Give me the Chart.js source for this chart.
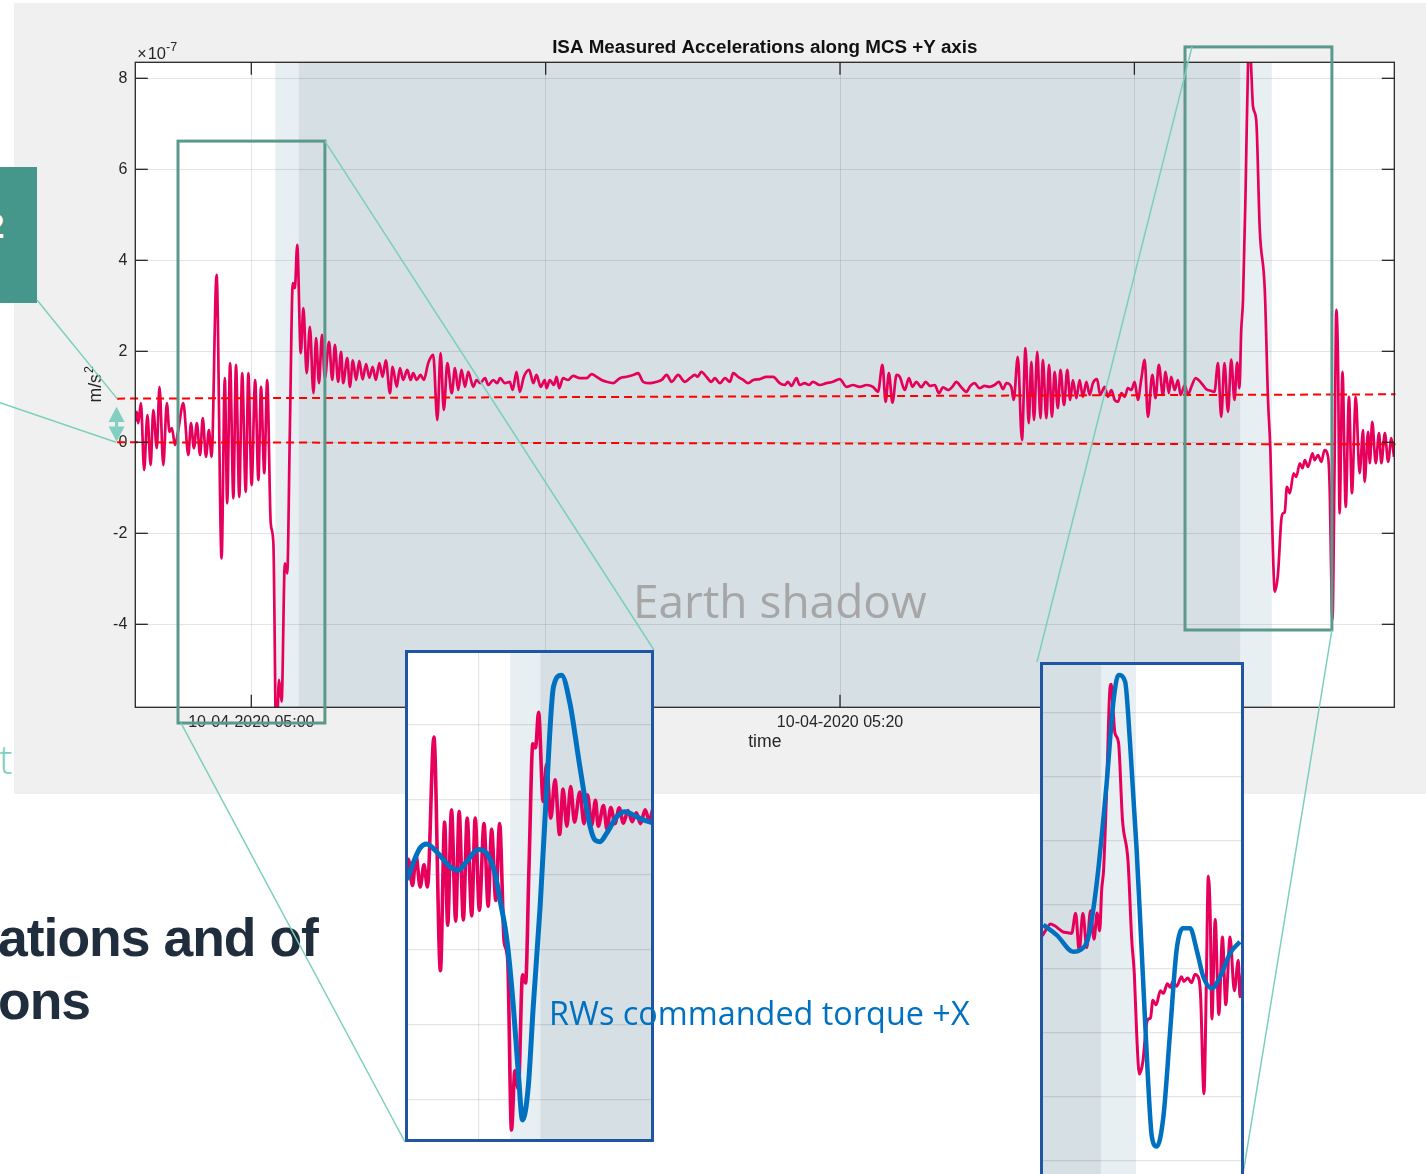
<!DOCTYPE html>
<html>
<head>
<meta charset="utf-8">
<title>ISA Measured Accelerations along MCS +Y axis</title>
<script src="https://cdn.jsdelivr.net/npm/chart.js@4.4.0/dist/chart.umd.min.js"></script>
<style>
  html, body { margin: 0; padding: 0; background: #fff; overflow: hidden; }
  #stage { position: relative; width: 1426px; height: 1174px; overflow: hidden; }
  .abs { position: absolute; }
  #figbg { left: 14px; top: 3px; width: 1412px; height: 791px; background: #f0f0f0; z-index: 1; }
  #slideTab { left: 0; top: 167px; width: 37px; height: 136px; background: #44978a; overflow: hidden; z-index: 2; }
  #slideTab span { position: absolute; left: -15px; top: 41px; color: #fff; font: bold 35px/35px "Liberation Sans", Arial, sans-serif; }
  #slideT { left: -1px; top: 739px; color: #7ccfbd; font: 300 40px/40px "Open Sans", sans-serif; z-index: 2; }
  .heading { left: -2px; color: #1f2d3d; font: bold 53.5px/53.5px "Liberation Sans", Arial, sans-serif; letter-spacing: -1px; white-space: nowrap; z-index: 2; }
  #mainCanvas { left: 0; top: 0; z-index: 3; }
  #shadowLabel { left: 633px; top: 577px; color: #a6a6a6; font: 46px/46px "Open Sans", sans-serif; white-space: nowrap; z-index: 4; }
  .inset { border: 3px solid #1f55a2; background: #fff; z-index: 5; }
  .inset canvas { display: block; }
  #insetL { left: 405px; top: 650px; width: 243px; height: 486px; }
  #insetR { left: 1040px; top: 662px; width: 198px; height: 557px; }
  #torqueLabel { left: 549px; top: 996px; color: #0070c0; font: 32.4px/32.4px "Open Sans", sans-serif; white-space: nowrap; z-index: 6; }
</style>
</head>
<body>
<div id="stage">
  <div id="figbg" class="abs"></div>
  <div id="slideTab" class="abs"><span>2</span></div>
  <div id="slideT" class="abs">t</div>
  <div class="abs heading" style="top:911px">ations and of</div>
  <div class="abs heading" style="top:974px">ons</div>
  <canvas id="mainCanvas" class="abs" width="1426" height="1174"></canvas>
  <div id="shadowLabel" class="abs">Earth shadow</div>
  <div id="insetL" class="abs inset"><canvas id="insetLCanvas" width="243" height="486"></canvas></div>
  <div id="insetR" class="abs inset"><canvas id="insetRCanvas" width="198" height="557"></canvas></div>
  <div id="torqueLabel" class="abs">RWs commanded torque +X</div>
</div>
<script>
// ISA acceleration along MCS +Y: [minutes after 10-04-2020 05:00, value in 1e-7 m/s^2]
const isaAccel = [
  [-3.95,0.45],[-3.89,0.67],[-3.84,0.42],[-3.75,0.86],[-3.64,-0.61],[-3.53,0.60],[-3.42,-0.50],[-3.33,0.71],
  [-3.21,-0.13],[-3.12,1.22],[-2.99,-0.50],[-2.87,0.86],[-2.78,0.23],[-2.70,0.31],[-2.59,-0.06],[-2.48,0.27],
  [-2.31,0.86],[-2.14,-0.28],[-2.05,0.42],[-1.95,-0.13],[-1.85,0.42],[-1.74,-0.28],[-1.65,0.53],[-1.54,-0.32],
  [-1.44,0.27],[-1.35,-0.32],[-1.18,3.68],[-1.01,-2.55],[-0.90,1.41],[-0.82,-1.34],[-0.72,1.74],[-0.61,-1.23],
  [-0.52,1.70],[-0.41,-1.20],[-0.31,1.52],[-0.19,-1.09],[-0.10,1.52],[0.01,-0.94],[0.13,1.37],[0.24,-0.83],
  [0.33,1.22],[0.44,-0.68],[0.54,1.37],[0.66,-1.78],[0.75,-2.22],[0.85,-6.80],[0.94,-5.22],[1.03,-5.70],
  [1.14,-2.66],[1.22,-2.88],[1.31,0.27],[1.41,3.50],[1.48,3.39],[1.56,4.34],[1.68,1.96],[1.77,2.95],
  [1.88,1.52],[1.99,2.54],[2.11,1.08],[2.20,2.29],[2.30,1.30],[2.40,2.36],[2.50,1.41],[2.64,2.21],
  [2.75,1.37],[2.84,2.14],[2.95,1.33],[3.05,1.99],[3.12,1.30],[3.26,1.85],[3.35,1.22],[3.45,1.80],
  [3.56,1.37],[3.67,1.79],[3.78,1.38],[3.90,1.72],[4.01,1.42],[4.12,1.66],[4.23,1.37],[4.35,1.74],
  [4.46,1.44],[4.57,1.80],[4.71,1.08],[4.80,1.66],[4.94,1.22],[5.05,1.63],[5.16,1.37],[5.30,1.59],
  [5.41,1.37],[5.50,1.52],[5.62,1.37],[5.75,1.48],[5.86,1.37],[6.01,1.74],[6.18,1.92],[6.32,0.49],
  [6.43,1.96],[6.54,0.71],[6.66,1.74],[6.81,1.08],[6.92,1.63],[7.03,1.15],[7.14,1.59],[7.26,1.22],
  [7.37,1.55],[7.54,1.22],[7.65,1.37],[7.77,1.30],[7.94,1.41],[8.05,1.26],[8.22,1.37],[8.35,1.30],
  [8.45,1.41],[8.62,1.30],[8.78,1.33],[8.88,1.15],[9.01,1.55],[9.12,1.11],[9.26,1.44],[9.44,1.59],
  [9.58,1.30],[9.69,1.48],[9.83,1.22],[9.97,1.37],[10.03,1.19],[10.14,1.37],[10.28,1.26],[10.37,1.44],
  [10.46,1.19],[10.59,1.41],[10.76,1.37],[10.93,1.46],[11.16,1.41],[11.39,1.41],[11.56,1.50],[11.73,1.44],
  [11.90,1.37],[12.07,1.33],[12.29,1.30],[12.52,1.41],[12.75,1.44],[12.97,1.48],[13.14,1.52],[13.31,1.33],
  [13.54,1.30],[13.77,1.33],[13.94,1.37],[14.11,1.48],[14.28,1.33],[14.50,1.48],[14.73,1.33],[14.90,1.41],
  [15.07,1.48],[15.16,1.44],[15.29,1.55],[15.46,1.44],[15.63,1.33],[15.75,1.41],[15.92,1.30],[16.09,1.41],
  [16.26,1.33],[16.37,1.52],[16.54,1.44],[16.71,1.37],[16.88,1.30],[17.05,1.37],[17.27,1.39],[17.50,1.44],
  [17.73,1.44],[17.95,1.30],[18.12,1.26],[18.23,1.33],[18.35,1.24],[18.52,1.41],[18.63,1.26],[18.80,1.30],
  [18.95,1.26],[19.08,1.33],[19.31,1.26],[19.54,1.30],[19.76,1.33],[19.99,1.39],[20.22,1.22],[20.44,1.26],
  [20.67,1.22],[20.90,1.26],[21.12,1.22],[21.29,1.11],[21.44,1.70],[21.55,0.89],[21.66,1.52],[21.78,0.87],
  [21.92,1.48],[22.03,1.44],[22.20,1.15],[22.34,1.41],[22.46,1.22],[22.59,1.33],[22.76,1.21],[22.91,1.33],
  [23.05,1.24],[23.22,1.26],[23.36,1.08],[23.50,1.21],[23.67,1.15],[23.84,1.24],[23.95,1.33],[24.12,1.21],
  [24.29,1.11],[24.43,1.24],[24.57,1.30],[24.74,1.19],[24.91,1.24],[25.08,1.22],[25.25,1.26],[25.40,1.33],
  [25.54,1.17],[25.65,1.30],[25.82,1.21],[25.90,0.93],[26.04,1.88],[26.18,0.05],[26.30,2.07],[26.41,0.42],
  [26.50,1.77],[26.59,0.49],[26.70,1.99],[26.81,0.53],[26.89,1.81],[27.01,0.53],[27.10,1.70],[27.20,0.56],
  [27.29,1.55],[27.40,0.75],[27.49,1.59],[27.61,0.82],[27.72,1.59],[27.82,0.93],[27.91,1.37],[28.03,0.97],
  [28.14,1.37],[28.25,1.00],[28.37,1.33],[28.48,1.04],[28.59,1.30],[28.73,1.39],[28.84,1.04],[28.99,1.22],
  [29.10,1.00],[29.22,1.15],[29.33,0.93],[29.44,0.89],[29.56,1.08],[29.67,1.00],[29.78,1.19],[29.90,1.15],
  [30.01,1.33],[30.12,0.93],[30.23,1.37],[30.35,1.81],[30.46,0.56],[30.61,1.48],[30.72,0.97],[30.83,1.70],
  [30.97,1.04],[31.06,1.55],[31.17,1.08],[31.25,1.44],[31.37,1.15],[31.48,1.37],[31.57,1.04],[31.71,1.26],
  [31.82,1.04],[31.93,1.21],[32.08,1.41],[32.21,1.35],[32.35,1.24],[32.44,1.17],[32.61,1.13],[32.72,1.11],
  [32.84,1.74],[32.95,0.56],[33.06,1.74],[33.18,0.67],[33.29,1.82],[33.40,0.93],[33.49,1.75],[33.57,1.19],
  [33.63,2.47],[33.69,3.13],[33.78,5.60],[33.87,8.60],[33.92,8.90],[33.97,8.20],[34.03,7.38],[34.14,7.08],
  [34.26,4.67],[34.43,3.35],[34.54,0.93],[34.62,-0.17],[34.69,-2.00],[34.77,-3.28],[34.88,-2.88],[34.99,-1.71],
  [35.05,-1.56],[35.11,-1.53],[35.18,-0.98],[35.28,-1.12],[35.41,-0.68],[35.50,-0.76],[35.62,-0.46],[35.71,-0.57],
  [35.79,-0.39],[35.90,-0.54],[36.05,-0.24],[36.12,-0.39],[36.24,-0.28],[36.35,-0.43],[36.46,-0.17],[36.58,-0.32],
  [36.63,-0.90],[36.73,-3.90],[36.80,-0.54],[36.86,2.91],[36.92,1.66],[36.97,-1.56],[37.07,1.55],[37.18,-1.42],
  [37.29,1.00],[37.39,-1.12],[37.52,1.00],[37.65,-0.68],[37.77,0.27],[37.82,-0.87],[37.94,0.23],[38.00,-0.46],
  [38.08,0.45],[38.20,-0.46],[38.31,0.20],[38.39,-0.46],[38.51,0.20],[38.62,-0.43],[38.73,0.09],[38.82,-0.32]
];

// Reaction-wheel commanded torque +X around the shadow entry (scaled to the acceleration axis)
const rwTorqueEntry = [
  [-1.89,-0.13],[-1.55,0.71],[-1.37,0.83],[-1.11,0.62],[-0.76,0.22],[-0.54,0.13],[-0.32,0.36],[-0.02,0.68],
  [0.20,0.58],[0.42,0.04],[0.55,-0.67],[0.73,-1.73],[0.90,-3.51],[1.03,-5.29],[1.14,-6.53],[1.29,-5.64],
  [1.42,-3.51],[1.60,-0.84],[1.77,2.27],[1.95,5.02],[2.16,5.33],[2.38,4.58],[2.64,2.89],[2.91,1.29],
  [3.04,0.93],[3.17,0.89],[3.34,1.11],[3.61,1.56],[3.82,1.69],[4.04,1.60],[4.30,1.47],[4.52,1.40]
];

// Reaction-wheel commanded torque +X around the shadow exit
const rwTorqueExit = [
  [31.86,1.38],[32.27,1.06],[32.77,0.54],[32.97,0.59],[33.23,1.01],[33.48,2.68],[33.78,5.80],[33.98,8.30],
  [34.14,9.19],[34.34,8.98],[34.49,7.05],[34.69,3.72],[34.89,-0.45],[35.04,-3.57],[35.15,-5.24],[35.30,-5.55],
  [35.50,-4.62],[35.70,-2.01],[35.90,0.59],[36.10,1.27],[36.31,1.27],[36.51,0.59],[36.71,-0.24],[36.97,-0.60],
  [37.22,-0.24],[37.52,0.49],[37.82,0.85]
];

// Eclipse phases, minutes after 05:00
const shadowBands = [
  { from: 0.815, to: 1.603, phase: 'penumbra' },
  { from: 1.603, to: 33.61, phase: 'umbra' },
  { from: 33.61, to: 34.67, phase: 'penumbra' }
];

// Bias reference levels (dashed)
const biasUpper = [[-4.56, 0.96], [38.87, 1.055]];
const biasLower = [[-4.56, 0.00], [38.87, -0.045]];

// Axes
const xRange = [-3.941, 38.83];
const yRange = [-5.824, 8.352];
const xTicks = [0, 10, 20, 30];
const xTickLabels = ['10-04-2020 05:00', '', '10-04-2020 05:20', ''];
const yTicks = [-4, -2, 0, 2, 4, 6, 8];
const insetYTicks = [-6, -4, -2, 0, 2, 4, 6, 8];

// Zoomed windows [t0, t1, v0, v1] and the inset ranges they open into
const zoomEntry = [-2.49, 2.50, -6.17, 6.62];
const zoomExit = [31.72, 36.71, -4.125, 8.69];
const insetEntryRange = { x: [-1.859, 4.503], y: [-7.04, 5.92] };
const insetExitRange = { x: [31.852, 37.852], y: [-7.906, 9.5] };

const PINK = '#e6005c';
const BLUE = '#0070c0';
const UMBRA = '#d6dfe3';
const PENUMBRA = '#e8eff2';
const TEAL_LINE = '#7ccfbd';
const BOX_GREEN = '#5b998c';
const INK = '#262626';
const FONT = '"Liberation Sans", Arial, Helvetica, sans-serif';

const toXY = arr => arr.map(([x, y]) => ({ x, y }));

function paintBands(ctx, area, xs) {
  for (const b of shadowBands) {
    const l = Math.max(area.left, xs.getPixelForValue(b.from));
    const r = Math.min(area.right, xs.getPixelForValue(b.to));
    if (r <= l) continue;
    ctx.fillStyle = b.phase === 'umbra' ? UMBRA : PENUMBRA;
    ctx.fillRect(l, area.top, r - l, area.height);
  }
}

function line(ctx, x1, y1, x2, y2) {
  ctx.beginPath(); ctx.moveTo(x1, y1); ctx.lineTo(x2, y2); ctx.stroke();
}

const mainDecor = {
  id: 'mainDecor',
  beforeDraw(chart) {
    const { ctx, chartArea: a, scales: { x } } = chart;
    ctx.save();
    ctx.fillStyle = '#fff';
    ctx.fillRect(a.left, a.top, a.width, a.height);
    paintBands(ctx, a, x);
    ctx.restore();
  },
  afterDraw(chart) {
    const { ctx, chartArea: a, scales: { x, y } } = chart;
    ctx.save();

    // axes box and inward ticks
    ctx.strokeStyle = INK; ctx.lineWidth = 1.3;
    ctx.strokeRect(a.left, a.top, a.width, a.height);
    const tl = 12.5;
    for (const v of yTicks) {
      const py = y.getPixelForValue(v);
      line(ctx, a.left, py, a.left + tl, py);
      line(ctx, a.right, py, a.right - tl, py);
    }
    for (const v of xTicks) {
      const px = x.getPixelForValue(v);
      line(ctx, px, a.bottom, px, a.bottom - tl);
      line(ctx, px, a.top, px, a.top + tl);
    }

    // title and axis labels
    const cx = (a.left + a.right) / 2;
    ctx.fillStyle = '#111';
    ctx.textAlign = 'center'; ctx.textBaseline = 'middle';
    ctx.font = 'bold 18.8px ' + FONT;
    ctx.fillText('ISA Measured Accelerations along MCS +Y axis', cx, 47.5);
    ctx.fillStyle = INK;
    ctx.font = '17.6px ' + FONT;
    ctx.fillText('time', cx, 742);

    // exponent marker
    ctx.textAlign = 'left'; ctx.textBaseline = 'alphabetic';
    ctx.font = '16px ' + FONT;
    ctx.fillText('\u00d7', a.left + 2, 58.5);
    const wx = ctx.measureText('\u00d7').width;
    ctx.font = '16.5px ' + FONT;
    ctx.fillText('10', a.left + 3 + wx, 58.5);
    const w10 = ctx.measureText('10').width;
    ctx.font = '12.5px ' + FONT;
    ctx.fillText('-7', a.left + 3 + wx + w10, 51);

    // y label, rotated
    ctx.save();
    ctx.translate(101, (a.top + a.bottom) / 2);
    ctx.rotate(-Math.PI / 2);
    ctx.font = '17.6px ' + FONT;
    const wm = ctx.measureText('m/s').width;
    ctx.font = '12.5px ' + FONT;
    const w2 = ctx.measureText('2').width;
    const start = -(wm + w2) / 2;
    ctx.font = '17.6px ' + FONT;
    ctx.fillText('m/s', start, 0);
    ctx.font = '12.5px ' + FONT;
    ctx.fillText('2', start + wm + 1, -8);
    ctx.restore();

    // zoom windows
    ctx.strokeStyle = BOX_GREEN; ctx.lineWidth = 3;
    const boxPx = z => ({
      l: x.getPixelForValue(z[0]), r: x.getPixelForValue(z[1]),
      b: y.getPixelForValue(z[2]), t: y.getPixelForValue(z[3])
    });
    const bE = boxPx(zoomEntry), bX = boxPx(zoomExit);
    for (const b of [bE, bX]) ctx.strokeRect(b.l, b.t, b.r - b.l, b.b - b.t);

    // connectors from the windows to their insets
    const iL = document.getElementById('insetL'), iR = document.getElementById('insetR');
    const rect = el => ({ l: el.offsetLeft, t: el.offsetTop, r: el.offsetLeft + el.offsetWidth, b: el.offsetTop + el.offsetHeight });
    const L = rect(iL), R = rect(iR);
    ctx.strokeStyle = TEAL_LINE; ctx.lineWidth = 1.5;
    line(ctx, bE.r, bE.t, L.r, L.t);
    line(ctx, bE.l + 3, bE.b, L.l, L.b);
    line(ctx, bX.l + 7, bX.t, R.l - 3, R.t);
    line(ctx, bX.r, bX.b, R.r - 1, chart.height);

    // offset markers linked to the side tab
    const xStart = x.getPixelForValue(biasUpper[0][0]);
    const yUp = y.getPixelForValue(biasUpper[0][1]);
    const yLo = y.getPixelForValue(biasLower[0][1]);
    const tab = document.getElementById('slideTab');
    line(ctx, tab.offsetLeft + tab.offsetWidth, tab.offsetTop + tab.offsetHeight - 3, xStart, yUp);
    line(ctx, 0, yUp + 4, xStart - 1, yLo);

    // double arrow between the two levels
    const ax = xStart - 0.5;
    const aTop = yUp + 8, aBot = yLo - 0.5, aMid = (aTop + aBot) / 2;
    ctx.fillStyle = '#80cfc0';
    ctx.beginPath();
    ctx.moveTo(ax, aTop); ctx.lineTo(ax + 8, aMid - 2.2); ctx.lineTo(ax - 8, aMid - 2.2); ctx.closePath(); ctx.fill();
    ctx.beginPath();
    ctx.moveTo(ax, aBot); ctx.lineTo(ax + 8, aMid + 2.2); ctx.lineTo(ax - 8, aMid + 2.2); ctx.closePath(); ctx.fill();
    ctx.fillRect(ax - 1.6, aMid - 2.5, 3.2, 5);

    ctx.restore();
  }
};

new Chart(document.getElementById('mainCanvas'), {
  type: 'line',
  data: {
    datasets: [
      { data: toXY(biasUpper), borderColor: '#ff0000', borderWidth: 2, borderDash: [8, 5], pointRadius: 0, clip: false },
      { data: toXY(biasLower), borderColor: '#ff0000', borderWidth: 2, borderDash: [8, 5], pointRadius: 0, clip: false },
      { data: toXY(isaAccel), borderColor: PINK, borderWidth: 2.7, pointRadius: 0, cubicInterpolationMode: 'monotone' }
    ]
  },
  options: {
    responsive: false, animation: false, devicePixelRatio: 1, events: [],
    layout: { padding: { left: 85.3, top: 62.3, right: 31.7, bottom: 426.7 } },
    plugins: { legend: { display: false }, tooltip: { enabled: false }, title: { display: false } },
    scales: {
      x: {
        type: 'linear', min: xRange[0], max: xRange[1],
        afterBuildTicks: s => { s.ticks = xTicks.map(v => ({ value: v })); },
        afterFit: s => { s.height = 40; },
        ticks: { autoSkip: false, maxRotation: 0, padding: 6, color: INK, font: { family: FONT, size: 16 },
                 callback: (v, i) => xTickLabels[i] },
        grid: { color: 'rgba(38,38,38,0.12)', lineWidth: 1, drawTicks: false },
        border: { display: false }
      },
      y: {
        type: 'linear', min: yRange[0], max: yRange[1],
        afterBuildTicks: s => { s.ticks = yTicks.map(v => ({ value: v })); },
        afterFit: s => { s.width = 50; },
        ticks: { padding: 8, color: INK, font: { family: FONT, size: 16 }, callback: v => String(v) },
        grid: { color: 'rgba(38,38,38,0.12)', lineWidth: 1, drawTicks: false },
        border: { display: false }
      }
    }
  },
  plugins: [mainDecor]
});

const insetBackdrop = {
  id: 'insetBackdrop',
  beforeDraw(chart) {
    const { ctx, chartArea: a, scales: { x } } = chart;
    ctx.save();
    ctx.fillStyle = '#fff';
    ctx.fillRect(a.left, a.top, a.width, a.height);
    paintBands(ctx, a, x);
    ctx.restore();
  }
};

function makeInset(canvasId, torque, range, pinkW, blueW) {
  const [x0, x1] = range.x, [y0, y1] = range.y;
  return new Chart(document.getElementById(canvasId), {
    type: 'line',
    data: {
      datasets: [
        { data: toXY(torque), borderColor: BLUE, borderWidth: blueW, pointRadius: 0, cubicInterpolationMode: 'monotone' },
        { data: toXY(isaAccel), borderColor: PINK, borderWidth: pinkW, pointRadius: 0, cubicInterpolationMode: 'monotone' }
      ]
    },
    options: {
      responsive: false, animation: false, devicePixelRatio: 1, events: [],
      layout: { padding: 0 },
      plugins: { legend: { display: false }, tooltip: { enabled: false } },
      scales: {
        x: {
          type: 'linear', min: x0, max: x1,
          afterBuildTicks: s => { s.ticks = xTicks.filter(v => v > x0 && v < x1).map(v => ({ value: v })); },
          afterFit: s => { s.height = 0; },
          ticks: { display: false },
          grid: { color: 'rgba(0,0,0,0.1)', lineWidth: 1.2, drawTicks: false },
          border: { display: false }
        },
        y: {
          type: 'linear', min: y0, max: y1,
          afterBuildTicks: s => { s.ticks = insetYTicks.filter(v => v > y0 && v < y1).map(v => ({ value: v })); },
          afterFit: s => { s.width = 0; },
          ticks: { display: false },
          grid: { color: 'rgba(0,0,0,0.1)', lineWidth: 1.2, drawTicks: false },
          border: { display: false }
        }
      }
    },
    plugins: [insetBackdrop]
  });
}

makeInset('insetLCanvas', rwTorqueEntry, insetEntryRange, 3.6, 5);
makeInset('insetRCanvas', rwTorqueExit, insetExitRange, 3, 4.5);
</script>
</body>
</html>
